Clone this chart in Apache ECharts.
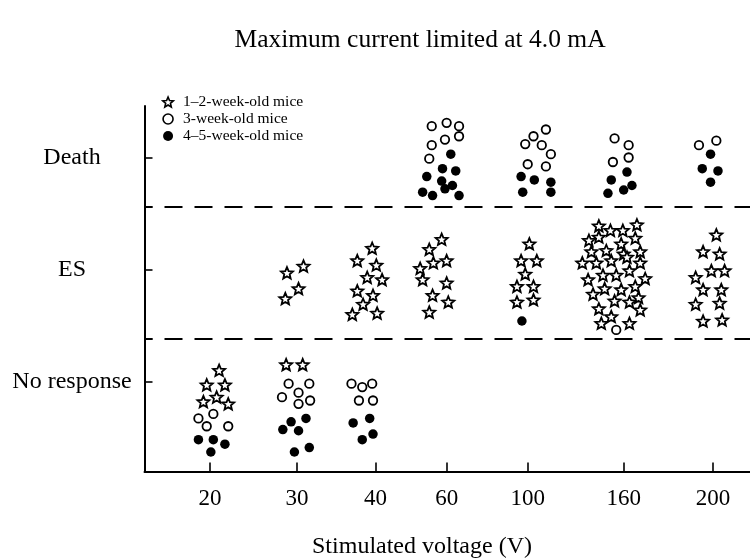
<!DOCTYPE html>
<html><head><meta charset="utf-8">
<script src="https://cdn.jsdelivr.net/npm/echarts@6/dist/echarts.min.js"></script>
<style>html,body{margin:0;padding:0;background:#fff}#c{width:750px;height:560px}</style>
</head><body><div id="c"></div>
<script>
// ---- data ----
const categories = ['20', '30', '40', '60', '100', '160', '200'];
const outcomes = ['No response', 'ES', 'Death'];
const ageGroups = ['1\u20132-week-old mice', '3-week-old mice', '4\u20135-week-old mice'];
const titleText = 'Maximum current limited at 4.0 mA';
const xName = 'Stimulated voltage (V)';

// each point: [voltage index, outcome index, jitter x, jitter y] (jitter as drawn in the figure)
const young = [
  [0,0,0.11,0.10],[0,0,-0.04,-0.03],[0,0,0.18,-0.03],[0,0,0.08,-0.14],[0,0,-0.08,-0.18],[0,0,0.22,-0.20],
  [1,0,-0.13,0.15],[1,0,0.07,0.15],
  [1,1,-0.12,-0.03],[1,1,0.08,0.03],[1,1,0.02,-0.17],[1,1,-0.14,-0.26],
  [2,1,-0.04,0.19],[2,1,-0.22,0.08],[2,1,0.01,0.04],[2,1,-0.10,-0.07],[2,1,0.08,-0.09],[2,1,-0.22,-0.19],[2,1,-0.03,-0.23],[2,1,-0.15,-0.31],[2,1,-0.28,-0.40],[2,1,0.02,-0.39],
  [3,1,-0.06,0.27],[3,1,-0.21,0.18],[3,1,-0.16,0.06],[3,1,0.00,0.08],[3,1,-0.32,0.01],[3,1,-0.29,-0.09],[3,1,0.00,-0.12],[3,1,-0.17,-0.23],[3,1,0.02,-0.29],[3,1,-0.21,-0.38],
  [4,1,0.02,0.23],[4,1,-0.08,0.08],[4,1,0.11,0.08],[4,1,-0.03,-0.04],[4,1,-0.13,-0.15],[4,1,0.07,-0.15],[4,1,-0.13,-0.29],[4,1,0.07,-0.27],
  [5,1,-0.30,0.39],[5,1,-0.16,0.35],[5,1,-0.01,0.35],[5,1,0.16,0.40],[5,1,-0.42,0.26],[5,1,-0.30,0.29],[5,1,0.14,0.28],[5,1,-0.03,0.23],
  [5,1,-0.39,0.16],[5,1,-0.21,0.17],[5,1,0.00,0.14],[5,1,0.20,0.16],[5,1,0.04,0.11],[5,1,-0.50,0.06],[5,1,-0.33,0.06],[5,1,-0.15,0.08],
  [5,1,0.20,0.06],[5,1,0.07,-0.01],[5,1,-0.43,-0.09],[5,1,-0.25,-0.05],[5,1,-0.09,-0.05],[5,1,0.26,-0.08],[5,1,0.14,-0.15],[5,1,-0.37,-0.22],
  [5,1,-0.23,-0.17],[5,1,-0.03,-0.18],[5,1,0.18,-0.25],[5,1,-0.11,-0.28],[5,1,0.07,-0.29],[5,1,-0.30,-0.35],[5,1,0.20,-0.36],[5,1,-0.15,-0.42],
  [5,1,-0.27,-0.48],[5,1,0.07,-0.48],
  [6,1,0.04,0.31],[6,1,-0.12,0.16],[6,1,0.08,0.14],[6,1,-0.02,-0.01],[6,1,0.14,-0.01],[6,1,-0.21,-0.07],[6,1,-0.12,-0.18],[6,1,0.10,-0.18],[6,1,-0.21,-0.31],[6,1,0.08,-0.30],[6,1,-0.12,-0.46],[6,1,0.11,-0.45]
];
const middle = [
  [0,0,0.04,-0.29],[0,0,-0.14,-0.33],[0,0,-0.04,-0.40],[0,0,0.22,-0.40],
  [1,0,-0.10,-0.02],[1,0,0.15,-0.02],[1,0,0.02,-0.10],[1,0,-0.18,-0.14],[1,0,0.02,-0.20],[1,0,0.16,-0.17],
  [2,0,-0.29,-0.02],[2,0,-0.16,-0.05],[2,0,-0.04,-0.02],[2,0,-0.20,-0.17],[2,0,-0.03,-0.17],
  [3,2,-0.18,0.28],[3,2,0.00,0.31],[3,2,0.15,0.28],[3,2,-0.02,0.16],[3,2,0.15,0.19],[3,2,-0.18,0.11],[3,2,-0.21,-0.01],
  [4,2,0.22,0.25],[4,2,0.07,0.19],[4,2,-0.03,0.12],[4,2,0.17,0.11],[4,2,0.28,0.03],[4,2,0.00,-0.06],[4,2,0.22,-0.08],
  [5,2,-0.11,0.17],[5,2,0.06,0.11],[5,2,-0.13,-0.04],[5,2,0.06,0.00],
  [5,1,-0.09,-0.54],
  [6,2,-0.17,0.11],[6,2,0.04,0.15]
];
const older = [
  [0,0,-0.14,-0.52],[0,0,0.04,-0.52],[0,0,0.18,-0.56],[0,0,0.01,-0.63],
  [1,0,0.11,-0.33],[1,0,-0.07,-0.36],[1,0,-0.17,-0.43],[1,0,0.02,-0.44],[1,0,0.15,-0.59],[1,0,-0.03,-0.63],
  [2,0,-0.27,-0.37],[2,0,-0.07,-0.33],[2,0,-0.03,-0.47],[2,0,-0.16,-0.52],
  [3,2,0.05,0.03],[3,2,-0.05,-0.10],[3,2,0.11,-0.12],[3,2,-0.24,-0.17],[3,2,-0.06,-0.21],[3,2,0.07,-0.25],[3,2,-0.02,-0.28],[3,2,-0.29,-0.31],[3,2,-0.17,-0.34],[3,2,0.15,-0.34],
  [4,2,-0.08,-0.17],[4,2,0.08,-0.20],[4,2,0.28,-0.22],[4,2,-0.06,-0.31],[4,2,0.28,-0.31],
  [4,1,-0.07,-0.46],
  [5,2,0.04,-0.13],[5,2,-0.15,-0.20],[5,2,0.10,-0.25],[5,2,0.00,-0.29],[5,2,-0.19,-0.32],
  [6,2,-0.03,0.03],[6,2,-0.13,-0.10],[6,2,0.06,-0.12],[6,2,-0.03,-0.22]
];

// ---- layout (axis positions of the categories as drawn, and band boundaries) ----
const catPos = [0, 1.05, 2.0, 2.86, 3.84, 5.0, 6.08];
const bandBounds = [0.38, 1.558];

const FONT = 'Liberation Serif';
const STAR = 'path://M50 0 L63.23 31.8 L97.55 34.55 L71.4 56.95 L79.39 90.45 L50 72.5 L20.61 90.45 L28.6 56.95 L2.45 34.55 L36.77 31.8 Z';

function toXY(arr) {
  return arr.map(p => [catPos[p[0]] + p[2], p[1] + p[3]]);
}
function nearestCat(v) {
  let best = 0;
  for (let i = 1; i < catPos.length; i++) if (Math.abs(catPos[i] - v) < Math.abs(catPos[best] - v)) best = i;
  return categories[best];
}

const chart = echarts.init(document.getElementById('c'), null, { renderer: 'canvas' });
chart.setOption({
  animation: false,
  backgroundColor: '#fff',
  grid: { left: 144.5, right: 0, top: 106, bottom: 88.5, containLabel: false },
  xAxis: {
    type: 'value', min: -0.792, max: 6.527,
    axisLine: { show: true, onZero: false, lineStyle: { color: '#000', width: 2 } },
    axisTick: { show: true, inside: true, length: 9, lineStyle: { color: '#000', width: 1.6 }, customValues: catPos },
    axisLabel: { show: true, customValues: catPos, formatter: v => nearestCat(v), margin: 16, fontSize: 23, fontFamily: FONT, color: '#000' },
    splitLine: { show: false }
  },
  yAxis: {
    type: 'value', min: -0.804, max: 2.46,
    axisLine: { show: true, onZero: false, lineStyle: { color: '#000', width: 2 } },
    axisTick: { show: true, inside: true, length: 8, lineStyle: { color: '#000', width: 1.6 }, customValues: [0, bandBounds[0], 1, bandBounds[1], 2] },
    axisLabel: { show: true, customValues: [0, 1, 2], formatter: v => outcomes[Math.round(v)], align: 'center', margin: 72.5, fontSize: 24, fontFamily: FONT, color: '#000' },
    splitLine: { show: false }
  },
  legend: {
    orient: 'vertical', left: 162, top: 94, padding: 0,
    itemWidth: 20, itemHeight: 10, itemGap: 1,
    symbolKeepAspect: true,
    selectedMode: false,
    textStyle: { fontSize: 15.5, lineHeight: 15, fontFamily: FONT, color: '#000' },
    data: [
      { name: ageGroups[0], icon: STAR, itemStyle: { color: '#fff', borderColor: '#000', borderWidth: 1.6 } },
      { name: ageGroups[1], icon: 'circle', itemStyle: { color: '#fff', borderColor: '#000', borderWidth: 1.6 } },
      { name: ageGroups[2], icon: 'circle', itemStyle: { color: '#000', borderWidth: 0 } }
    ]
  },
  graphic: [
    { type: 'text', x: 420, y: 40, style: { text: titleText, fontSize: 25.5, fontFamily: FONT, fill: '#000', align: 'center', verticalAlign: 'middle' } },
    { type: 'text', x: 422, y: 547, style: { text: xName, fontSize: 24, fontFamily: FONT, fill: '#000', align: 'center', verticalAlign: 'middle' } }
  ],
  series: [
    {
      name: ageGroups[0], type: 'scatter', symbol: STAR, symbolKeepAspect: true, symbolSize: 12,
      itemStyle: { color: '#fff', borderColor: '#000', borderWidth: 1.8, opacity: 1 },
      emphasis: { disabled: true }, silent: true,
      data: toXY(young),
      markLine: {
        silent: true, symbol: ['none', 'none'], label: { show: false },
        lineStyle: { color: '#000', width: 1.8, type: [18, 12], dashOffset: 10 },
        emphasis: { disabled: true },
        data: bandBounds.map(b => ({ yAxis: b }))
      }
    },
    {
      name: ageGroups[1], type: 'scatter', symbol: 'circle', symbolSize: 8.5,
      itemStyle: { color: '#fff', borderColor: '#000', borderWidth: 1.8, opacity: 1 },
      emphasis: { disabled: true }, silent: true,
      data: toXY(middle)
    },
    {
      name: ageGroups[2], type: 'scatter', symbol: 'circle', symbolSize: 9.5,
      itemStyle: { color: '#000', opacity: 1 },
      emphasis: { disabled: true }, silent: true,
      data: toXY(older)
    }
  ]
});
</script></body></html>
